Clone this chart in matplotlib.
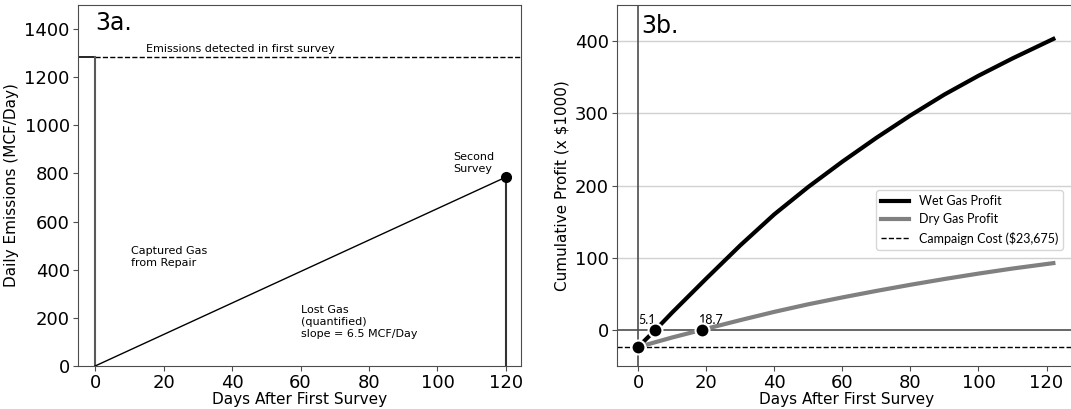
import matplotlib.pyplot as plt

# panel a: emissions
first_survey = 1285
second_day = 120
second_rate = 785

# panel b: cumulative profit (x $1000)
days = [0, 5.1, 10, 20, 30, 40, 50, 60, 70, 80, 90, 100, 110, 122]
wet_profit = [-23.7, 0, 24, 71, 117, 160, 198, 233, 266, 297, 326, 352, 376, 403]
dry_days = [0, 10, 18.7, 30, 40, 50, 60, 70, 80, 90, 100, 110, 122]
dry_profit = [-23.7, -10.5, 0, 13.5, 25, 35.5, 45, 54, 62.5, 70.5, 78, 85, 92.5]
campaign_cost = -23.675
breakeven_days = [0, 5.1, 18.7]
breakeven_vals = [-23.675, 0, 0]

fig = plt.figure(figsize=(10.71, 4.09), dpi=100)
ax1 = fig.add_axes([0.0728, 0.1051, 0.4137, 0.8827])
ax2 = fig.add_axes([0.5764, 0.1051, 0.4281, 0.8827])

spine_col = '0.3'
small = 8

# ---- 3a ----
ax1.plot([-5, 0], [first_survey, first_survey], color='black', lw=1.2)
ax1.plot([0, 130], [first_survey, first_survey], color='black', lw=1, ls='--')
ax1.plot([0, 0], [0, first_survey], color='0.35', lw=1.5)
ax1.plot([second_day, second_day], [0, second_rate], color='0.2', lw=1.5)
ax1.plot([0, second_day], [0, second_rate], color='black', lw=1)
ax1.plot([second_day], [second_rate], 'o', color='black', ms=7)
ax1.text(15, 1298, 'Emissions detected in first survey', fontsize=small, va='bottom')
ax1.text(104.5, 890, 'Second\nSurvey', fontsize=small, va='top', linespacing=1.3)
ax1.text(10.5, 500, 'Captured Gas\nfrom Repair', fontsize=small, va='top', linespacing=1.3)
ax1.text(60, 255, 'Lost Gas\n(quantified)\nslope = 6.5 MCF/Day', fontsize=small, va='top', linespacing=1.3)
ax1.text(0, 1475, '3a.', fontsize=17, va='top')
ax1.set_xlim(-5, 124.4)
ax1.set_ylim(0, 1500)
ax1.set_xticks(range(0, 121, 20))
ax1.set_yticks(range(0, 1401, 200))
ax1.set_xlabel('Days After First Survey', fontsize=11, labelpad=0)
ax1.set_ylabel('Daily Emissions (MCF/Day)', fontsize=11)

# ---- 3b ----
for v in [100, 200, 300, 400]:
    ax2.axhline(v, color='0.82', lw=1, zorder=0)
ax2.axhline(0, color='0.3', lw=1.2, zorder=1)
ax2.axvline(0, color='0.3', lw=1.2, zorder=1)
ax2.plot(days, wet_profit, color='black', lw=3, label='Wet Gas Profit', zorder=3)
ax2.plot(dry_days, dry_profit, color='0.5', lw=3, label='Dry Gas Profit', zorder=2)
ax2.axhline(campaign_cost, color='black', lw=1, ls='--', label='Campaign Cost ($23,675)', zorder=2)
ax2.plot(breakeven_days, breakeven_vals, 'o', color='black', mec='white', mew=1.5, ms=10, zorder=4)
ax2.text(5.3, 6, '5.1', fontsize=9, family='Lato', ha='right', va='bottom')
ax2.text(17.9, 6, '18.7', fontsize=9, family='Lato', ha='left', va='bottom')
ax2.text(0.8, 438, '3b.', fontsize=17, va='top')
ax2.set_xlim(-6.1, 128.6)
ax2.set_ylim(-50, 450)
ax2.set_xticks(range(0, 121, 20))
ax2.set_yticks(range(0, 401, 100))
ax2.set_xlabel('Days After First Survey', fontsize=11, labelpad=0)
ax2.set_ylabel('Cumulative Profit (x $1000)', fontsize=11)
leg = ax2.legend(loc='upper right', bbox_to_anchor=(0.972, 0.487), borderaxespad=0,
                 prop={'family': 'Lato', 'size': 9}, handlelength=2.2)

for ax in (ax1, ax2):
    ax.tick_params(labelsize=13, color=spine_col, pad=2.5)
    for s in ax.spines.values():
        s.set_color(spine_col)

plt.savefig('out.png', dpi=100)
plt.close()
